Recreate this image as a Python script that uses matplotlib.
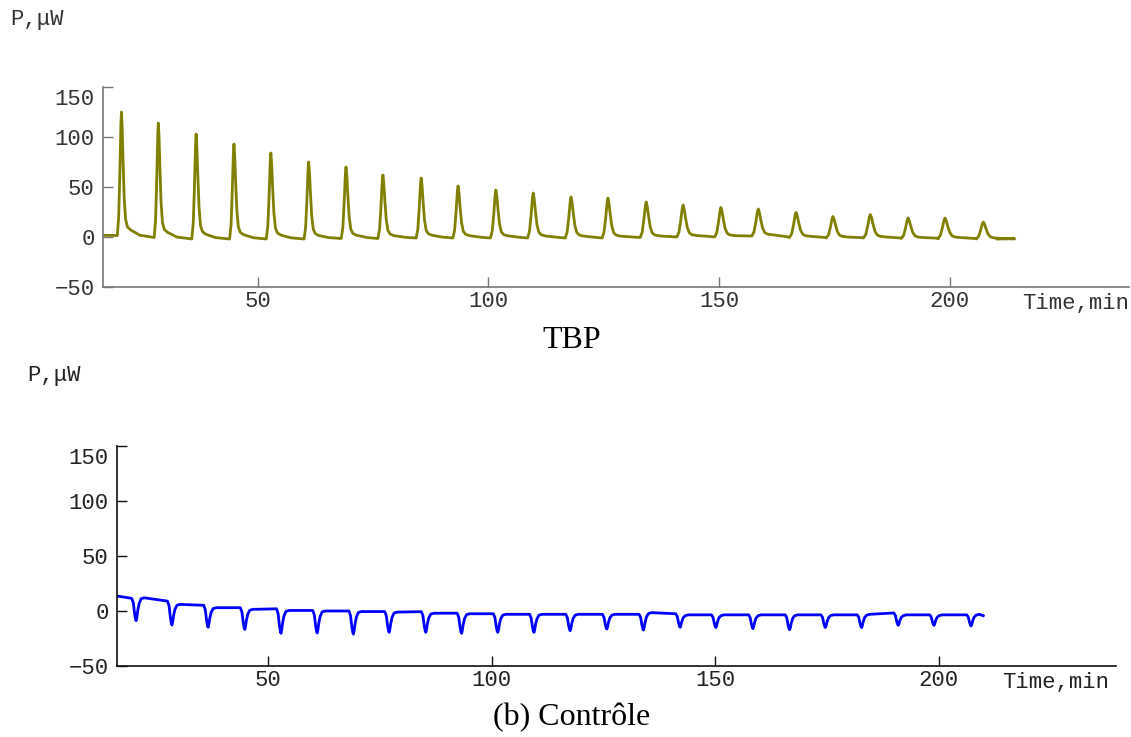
import matplotlib.pyplot as plt
import matplotlib.transforms as mtransforms
import numpy as np

# --- data -----------------------------------------------------------------
# TBP: injection peak times (min), peak values and baseline just before each peak (uW)
tbp_t = [20.4, 28.4, 36.6, 44.8, 52.8, 61.0, 69.1, 77.1, 85.4, 93.4, 101.6, 109.7,
         117.9, 125.9, 134.2, 142.2, 150.4, 158.5, 166.7, 174.7, 182.8, 191.0, 199.0, 207.3]
tbp_peak = [125, 114, 103, 93, 84, 75, 70, 62, 59, 51, 47, 44,
            40, 39, 35, 32, 29.5, 28, 24.5, 20.5, 22.5, 19, 19, 15]
tbp_base = [1.5, -0.5, -2, -2, -2, -2, -1.5, -1.5, -1, -1, -1, -1,
            -1, -1, -0.5, 0, 0, 1, -0.5, -1, -1, -1.5, -1.5, -2]
tbp_width = [1.0, 1.0, 1.05, 1.05, 1.1, 1.1, 1.15, 1.2, 1.2, 1.25, 1.3, 1.35,
             1.4, 1.4, 1.45, 1.5, 1.5, 1.55, 1.6, 1.6, 1.65, 1.65, 1.7, 1.7]
tbp_start = (16.4, 1.7)
tbp_end = (210.3, -2.0)

# Controle: dip times, dip minima, baseline before the dip and after recovery
ctl_t = [20.5, 28.5, 36.6, 44.8, 52.9, 61.0, 69.1, 77.1, 85.3, 93.3, 101.4, 109.5,
         117.6, 125.8, 134.0, 142.2, 150.2, 158.5, 166.7, 174.7, 182.8, 191.0, 199.0, 207.3]
ctl_dip = [-8.8, -12.7, -14.8, -16.7, -20.3, -20, -21, -19.4, -19.4, -20.3, -19.4, -19.4,
           -17.9, -16.4, -17.3, -14.8, -15, -16, -17, -15, -15, -13, -13, -13.6]
ctl_pre = [11.5, 9, 5.2, 3, 2, 0.5, 0, -0.5, -0.6, -2, -2.5, -3,
           -3, -3, -3, -2.5, -3.5, -3.5, -3.5, -3.5, -3.5, -1.8, -3.5, -3.5]
ctl_post = [12, 6, 3, 1.5, 0.5, 0, -0.5, -1, -2, -2.5, -3, -3,
            -3, -3, -1.5, -3.5, -3.5, -3.5, -3.5, -3.5, -3.0, -3.5, -3.5, -3.0]
ctl_start = (16.2, 13.6)
ctl_end = (210.0, -4.3)


def peak_trace(times, peaks, bases, widths, start, end):
    xs, ys = [start[0]], [start[1]]
    for i, (t, h, b, w) in enumerate(zip(times, peaks, bases, widths)):
        nb = bases[i + 1] if i + 1 < len(bases) else end[1]
        a = h - b
        shape = [(-0.9, 0.0), (-0.6, 0.15), (-0.35, 0.5), (-0.12, 0.9), (0.0, 1.0),
                 (0.15, 0.88), (0.35, 0.6), (0.6, 0.3), (0.9, 0.13), (1.3, 0.07), (2.0, 0.045)]
        for dx, f in shape:
            xs.append(t + dx * w)
            ys.append(b + f * a)
        xs.append(t + 4.0 * w)
        ys.append(nb + 0.3 * (b + 0.045 * a - nb))
    xs.append(end[0])
    ys.append(end[1])
    return np.array(xs), np.array(ys)


def dip_trace(times, dips, pre, post, start, end):
    xs, ys = [start[0]], [start[1]]
    for t, d, p, q in zip(times, dips, pre, post):
        shape = [(-1.0, p), (-0.65, p + 0.2 * (d - p)), (-0.35, p + 0.7 * (d - p)),
                 (-0.12, p + 0.96 * (d - p)), (0.0, d), (0.15, d + 0.15 * (q - d)),
                 (0.35, d + 0.45 * (q - d)), (0.65, d + 0.75 * (q - d)),
                 (1.1, q - 0.8), (1.8, q)]
        for dx, v in shape:
            xs.append(t + dx)
            ys.append(v)
    xs.append(end[0])
    ys.append(end[1])
    return np.array(xs), np.array(ys)


mono = 'Liberation Mono'
W, H = 1131, 737
fig = plt.figure(figsize=(W / 100, H / 100), dpi=100)


def style_axes(ax, xlim, axis_color, label_color):
    ax.set_xlim(*xlim)
    ax.set_ylim(-50, 150)
    for s in ('top', 'right'):
        ax.spines[s].set_visible(False)
    for s in ('left', 'bottom'):
        ax.spines[s].set_color(axis_color)
        ax.spines[s].set_linewidth(1.2)
    ax.set_xticks([50, 100, 150, 200])
    ax.set_yticks([-50, 0, 50, 100, 150])
    ax.tick_params(direction='in', length=7, width=1.0, color=axis_color,
                   labelcolor=label_color, labelsize=16)
    ax.tick_params(axis='y', pad=6)
    ax.tick_params(axis='x', pad=3)
    for lab in ax.get_xticklabels() + ax.get_yticklabels():
        lab.set_family(mono)
    # the top label (150) sits a little below its tick in the original
    top = ax.yaxis.get_major_ticks()[-1].label1
    top.set_transform(top.get_transform() +
                      mtransforms.ScaledTranslation(0, -0.10, fig.dpi_scale_trans))
    ax.set_facecolor('none')


# top panel: TBP
ax1 = fig.add_axes([103 / W, 1 - 287 / H, (1129 - 103) / W, 200 / H])
x1, y1 = peak_trace(tbp_t, tbp_peak, tbp_base, tbp_width, tbp_start, tbp_end)
ax1.plot(x1, y1, color='#808000', lw=2.0, solid_joinstyle='round')
style_axes(ax1, (16.4, 238.9), '#777777', '#333333')
ax1.annotate('Time,min', xy=(1, 0), xycoords='axes fraction', xytext=(0, -4),
             textcoords='offset points', ha='right', va='top', family=mono,
             fontsize=16, color='#333333')

# bottom panel: Controle
ax2 = fig.add_axes([117 / W, 1 - 666 / H, (1116 - 117) / W, 220 / H])
x2, y2 = dip_trace(ctl_t, ctl_dip, ctl_pre, ctl_post, ctl_start, ctl_end)
ax2.plot(x2, y2, color='#0000ff', lw=2.0, solid_joinstyle='round')
style_axes(ax2, (16.2, 239.7), '#111111', '#222222')
ax2.annotate('Time,min', xy=(1, 0), xycoords='axes fraction', xytext=(-5, -4),
             textcoords='offset points', ha='right', va='top', family=mono,
             fontsize=16, color='#222222')

# y-axis unit labels and panel captions
fig.text(10 / W, 1 - 20 / H, 'P,μW', family=mono, fontsize=16, color='#333333',
         ha='left', va='center')
fig.text(27 / W, 1 - 376 / H, 'P,μW', family=mono, fontsize=16, color='#222222',
         ha='left', va='center')
fig.text(572 / W, 1 - 340 / H, 'TBP', family='Liberation Serif', fontsize=23,
         ha='center', va='center')
fig.text(572 / W, 1 - 718 / H, '(b) Contrôle', family='Liberation Serif', fontsize=23,
         ha='center', va='center')

fig.savefig('out.png', dpi=100)
